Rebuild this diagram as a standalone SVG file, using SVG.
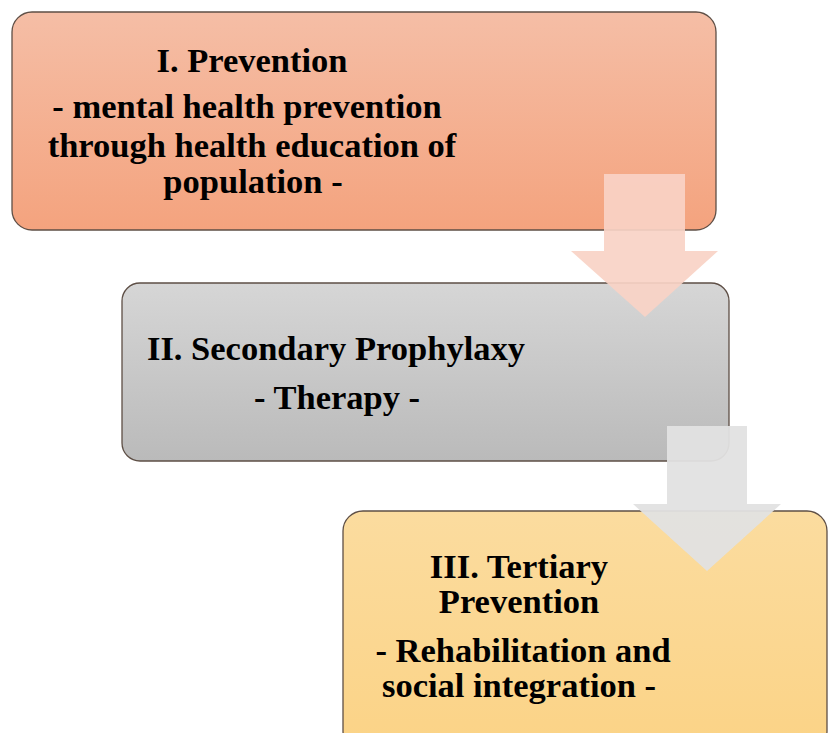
<svg xmlns="http://www.w3.org/2000/svg" width="828" height="733" viewBox="0 0 828 733">
<defs>
<linearGradient id="g1" x1="0" y1="0" x2="0" y2="1"><stop offset="0" stop-color="#f5bea6"/><stop offset="1" stop-color="#f4a37e"/></linearGradient>
<linearGradient id="g2" x1="0" y1="0" x2="0" y2="1"><stop offset="0" stop-color="#d6d6d6"/><stop offset="1" stop-color="#bababa"/></linearGradient>
<linearGradient id="g3" x1="0" y1="0" x2="0" y2="1"><stop offset="0" stop-color="#fbdc9f"/><stop offset="1" stop-color="#fbd386"/></linearGradient>
</defs>
<style>
.box{stroke:#5e4f46;stroke-width:1.3}
.t{font-family:"Liberation Serif","Times New Roman",serif;font-weight:bold;font-size:34.5px;fill:#000;text-anchor:middle}
</style>
<g id="node1">
<rect class="box" x="12" y="12" width="704" height="218" rx="20" fill="url(#g1)"/>
<text class="t" x="252" y="72">I. Prevention</text>
<text class="t" x="247" y="118">- mental health prevention</text>
<text class="t" x="252" y="157">through health education of</text>
<text class="t" x="253" y="193">population -</text>
</g>
<g id="node2">
<rect class="box" x="122" y="283" width="607" height="178" rx="18" fill="url(#g2)"/>
<text class="t" x="336" y="360">II. Secondary Prophylaxy</text>
<text class="t" x="337" y="409">- Therapy -</text>
</g>
<g id="node3">
<rect class="box" x="343" y="511" width="484" height="240" rx="20" fill="url(#g3)"/>
<text class="t" x="519" y="578">III. Tertiary</text>
<text class="t" x="519" y="613">Prevention</text>
<text class="t" x="523" y="662">- Rehabilitation and</text>
<text class="t" x="519" y="697">social integration -</text>
</g>
<g id="connectors">
<polygon points="604,174 685,174 685,251 718,251 645,317 571,251 604,251" fill="#f9d3c5" opacity="0.92"/>
<polygon points="667,426 747,426 747,504 781,504 707,571 633,504 667,504" fill="#e2e2e2" opacity="0.95"/>
</g>
</svg>
